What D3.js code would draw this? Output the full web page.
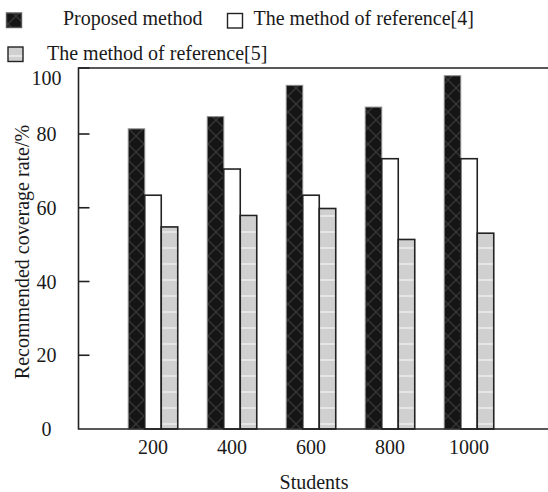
<!DOCTYPE html>
<html>
<head>
<meta charset="utf-8">
<script src="https://cdn.jsdelivr.net/npm/d3@7"></script>
<style>
  html, body { margin: 0; padding: 0; background: #fff; }
  svg { display: block; }
  text { font-family: "Liberation Serif", "Times New Roman", serif; fill: #1a1a1a; }
</style>
</head>
<body>
<svg id="chart" width="548" height="492"></svg>
<script>
// ---- data ----
const students = [200, 400, 600, 800, 1000];
const proposed = [81.4, 84.7, 93.2, 87.3, 95.8];
const reference4 = [63.4, 70.5, 63.4, 73.3, 73.3];
const reference5 = [54.8, 57.9, 59.8, 51.4, 53.1];
const seriesNames = ["Proposed method", "The method of reference[4]", "The method of reference[5]"];
const yTicks = [0, 20, 40, 60, 80, 100];
const xLabel = "Students";
const yLabel = "Recommended coverage rate/%";

const svg = d3.select("#chart");
const W = 548, H = 492;
const plot = { left: 78.5, right: 548, top: 68, bottom: 429 };

const x = d3.scaleLinear().domain([0, 1200]).range([74, 548]);
const y = d3.scaleLinear().domain([0, 97.9]).range([plot.bottom, plot.top]);

const defs = svg.append("defs");
// crosshatch pattern for dark bars
const pd = defs.append("pattern").attr("id", "cross").attr("patternUnits", "userSpaceOnUse")
  .attr("width", 16).attr("height", 16).attr("x", 0).attr("y", 0);
pd.append("rect").attr("width", 16).attr("height", 16).attr("fill", "#151515");
pd.append("path").attr("d", "M0,0 L16,16 M16,0 L0,16").attr("stroke", "#363636").attr("stroke-width", 1.3);
// stripes for light bars
const pg = defs.append("pattern").attr("id", "stripe").attr("patternUnits", "userSpaceOnUse")
  .attr("width", 16).attr("height", 16).attr("x", 0).attr("y", 0);
pg.append("rect").attr("width", 16).attr("height", 16).attr("fill", "#d0d0d0");
pg.append("rect").attr("y", 7).attr("width", 16).attr("height", 2).attr("fill", "#e6e6e6");

const bw = 16.5;
const series = [
  { name: seriesNames[0], values: proposed, fill: "url(#cross)", stroke: "#8a8a8a", sw: 1, off: -1.5 },
  { name: seriesNames[1], values: reference4, fill: "#ffffff", stroke: "#222", sw: 1.6, off: -0.5 },
  { name: seriesNames[2], values: reference5, fill: "url(#stripe)", stroke: "#222", sw: 1.6, off: 0.5 }
];

// bars
series.forEach(s => {
  svg.append("g").selectAll("rect").data(students).join("rect")
    .attr("x", (d) => x(d) + s.off * bw)
    .attr("y", (d, i) => y(s.values[i]))
    .attr("width", bw)
    .attr("height", (d, i) => plot.bottom - y(s.values[i]))
    .attr("fill", s.fill)
    .attr("stroke", s.stroke)
    .attr("stroke-width", s.sw);
});

// frame: left, bottom, top
const frame = svg.append("g").attr("stroke", "#222").attr("stroke-width", 1.6).attr("fill", "none");
frame.append("path").attr("d", `M${W},${plot.top} H${plot.left} V${plot.bottom} H${W}`);

// y ticks (inward) and labels
const yt = svg.append("g");
yTicks.forEach(v => {
  const yy = v <= y.domain()[1] ? y(v) : plot.top;
  if (v > 0) {
    yt.append("line").attr("x1", plot.left).attr("x2", plot.left + 11)
      .attr("y1", yy).attr("y2", yy).attr("stroke", "#222").attr("stroke-width", 1.6);
  }
  const ly = v <= y.domain()[1] ? yy : plot.top + 10;
  yt.append("text").attr("x", 46.5).attr("y", ly + 7).attr("text-anchor", "middle")
    .attr("font-size", 20).text(v);
});

// x tick labels
svg.append("g").selectAll("text").data(students).join("text")
  .attr("x", d => x(d)).attr("y", 454).attr("text-anchor", "middle")
  .attr("font-size", 20).text(d => d);

// axis titles
svg.append("text").attr("x", 314).attr("y", 489).attr("text-anchor", "middle")
  .attr("font-size", 20).text(xLabel);
svg.append("text").attr("transform", "translate(29,252) rotate(-90)").attr("text-anchor", "middle")
  .attr("font-size", 20).text(yLabel);

// legend
const legendItems = [
  { s: series[0], bx: 6.5, by: 13, tx: 63, ty: 25 },
  { s: series[1], bx: 227.5, by: 13.5, tx: 253.5, ty: 25 },
  { s: series[2], bx: 8, by: 47, tx: 47, ty: 59.5 }
];
legendItems.forEach(l => {
  svg.append("rect").attr("x", l.bx).attr("y", l.by).attr("width", 15).attr("height", 14.5)
    .attr("fill", l.s.fill).attr("stroke", l.s === series[0] ? "#555" : "#222").attr("stroke-width", 1.4);
  svg.append("text").attr("x", l.tx).attr("y", l.ty).attr("font-size", 20).text(l.s.name);
});
</script>
</body>
</html>
